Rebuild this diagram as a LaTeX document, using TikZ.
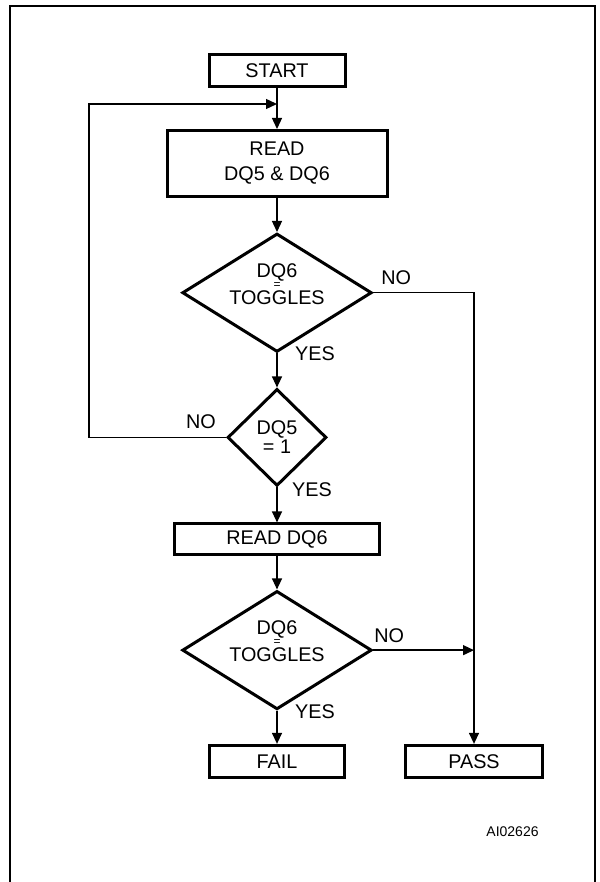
\documentclass[tikz,border=0pt]{standalone}
\usepackage{fontspec}
\setmainfont{Liberation Sans}
\usetikzlibrary{arrows.meta, positioning, calc, shapes.geometric}

\begin{document}
\begin{tikzpicture}[
    x=1pt, y=1pt,
    font=\fontsize{19.8}{23}\selectfont,
    flow/.style={-{Triangle[length=11pt, width=10pt]}, line width=1.3pt},
    box/.style={draw, line width=3pt, minimum height=32pt, inner sep=0pt, align=center},
    dec/.style={draw, diamond, line width=3pt, inner sep=0pt, align=center},
    lbl/.style={inner sep=0pt},
]
\useasboundingbox (0,0) rectangle (599,-882);

% ---- marco ----
\draw[line width=1.8pt] (10,-882) |- (595,-6) -- (595,-882);

% ---- lectura y prueba de toggle ----
\node[box, minimum width=136pt] (start) at (277,-70.5) {START};
\node[box, minimum width=220pt, minimum height=66pt, below=41pt of start] (read)
    {READ\\[2pt]DQ5 \& DQ6};
\node[dec, aspect=1.6, minimum width=186pt, minimum height=116pt, text depth=18pt, below=34pt of read] (tog1)
    {DQ6\\[-12pt]{\fontsize{12}{12}\selectfont=}\\[-7pt]TOGGLES};
\node[dec, minimum width=99pt, minimum height=97pt, below=34pt of tog1] (dq5)
    {DQ5\\[-4pt]= 1};
\coordinate (join) at ($(start.south)+(0,-16)$);

\draw[flow] (start) -- (read);
\draw[flow] (read) -- (tog1);
\draw[flow] (tog1) -- (dq5);
\draw[flow] (dq5.west) -- ++(-137,0) |- (join);

% ---- segunda lectura ----
\node[box, minimum width=205pt, minimum height=31pt, below=35pt of dq5] (read6) {READ DQ6};
\node[dec, aspect=1.6, minimum width=186pt, minimum height=116pt, text depth=18pt, below=33pt of read6] (tog2)
    {DQ6\\[-12pt]{\fontsize{12}{12}\selectfont=}\\[-7pt]TOGGLES};
\node[box, minimum width=135pt, below=33pt of tog2] (fail) {FAIL};
\node[box, minimum width=137pt, right=58pt of fail] (pass) {PASS};

\draw[flow] (dq5) -- (read6);
\draw[flow] (read6) -- (tog2);
\draw[flow] (tog2) -- (fail);
\draw[flow] (tog1.east) -| (pass.north);
\draw[flow] (tog2.east) -- (tog2.east -| pass.north);

% ---- etiquetas ----
\node[lbl, anchor=south west] (no1) at ($(tog1.east)+(8,8)$) {NO};
\node[lbl, anchor=south west] (yes1) at ($(tog1.south)+(18,-7)$) {YES};
\node[lbl, anchor=south east] (no2) at ($(dq5.west)+(-10,9)$) {NO};
\node[lbl, anchor=south west] (yes2) at ($(dq5.south)+(15,-9)$) {YES};
\node[lbl, anchor=south west] (no3) at ($(tog2.east)+(1,7)$) {NO};
\node[lbl, anchor=south west] (yes3) at ($(tog2.south)+(18,-8)$) {YES};

\node[font=\fontsize{14}{16}\selectfont] (code) at (512.5,-832) {AI02626};

\end{tikzpicture}
\end{document}
